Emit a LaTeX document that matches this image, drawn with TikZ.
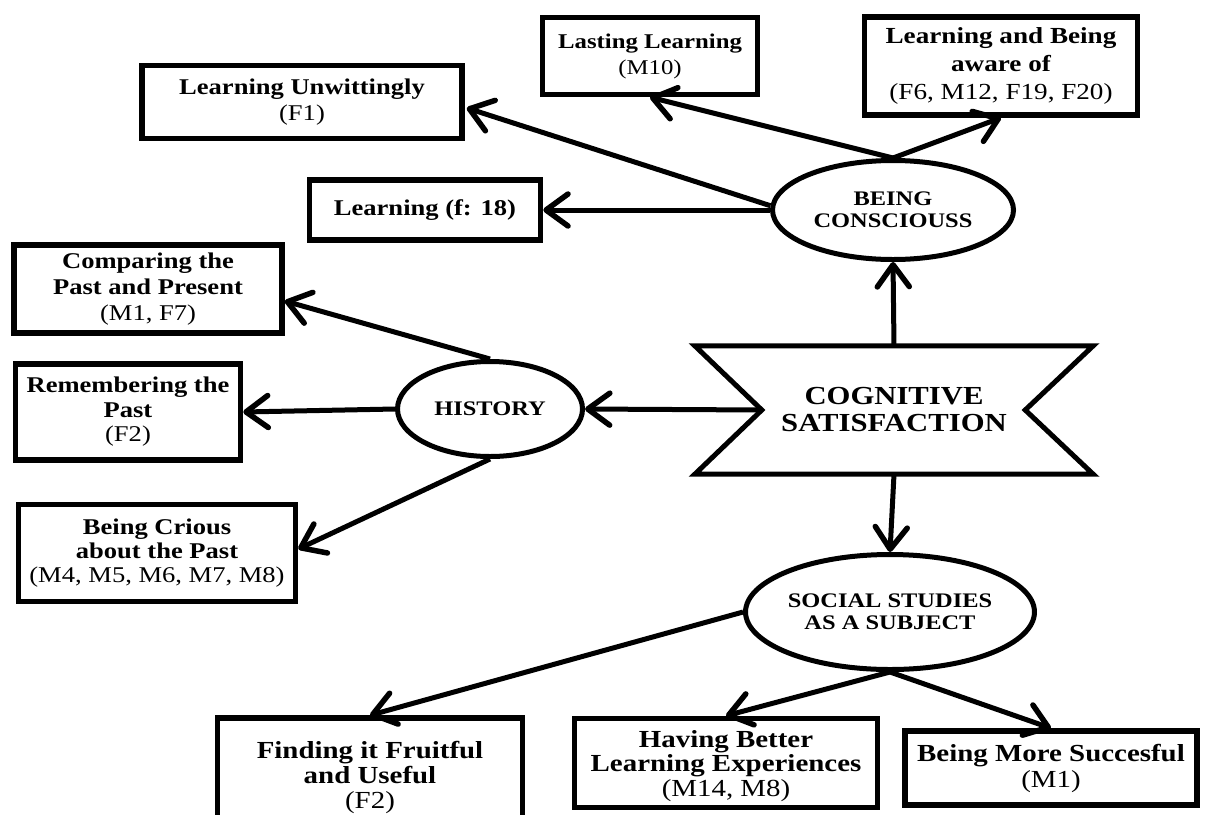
\documentclass[tikz,border=0pt]{standalone}
\usepackage{fontspec}
\setmainfont{Liberation Serif}[FakeStretch=1.18]
\usetikzlibrary{arrows.meta,calc,shapes.geometric}
\begin{document}
\begin{tikzpicture}[x=1pt,y=-1pt,
  box/.style={draw,line width=5.5pt,rectangle,inner sep=0pt,align=center,
    font=\fontsize{22.5}{26}\selectfont\bfseries},
  bigbox/.style={box,font=\fontsize{24.5}{26}\selectfont\bfseries},
  ell/.style={draw,line width=5pt,ellipse,inner sep=0pt,align=center,
    font=\fontsize{20.7}{22}\selectfont\bfseries},
  arr/.style={line width=5pt,-{Straight Barb[length=22pt,width=32pt,line width=5.5pt,round]}}
]
\useasboundingbox[fill=white] (0,0) rectangle (1206,814);

% upper branch
\node[box,minimum width=320,minimum height=73] (LU) at (302,102)
  {Learning Unwittingly\\{\mdseries (F1)}};
\node[box,minimum width=231,minimum height=60] (LF) at (425,210)
  {Learning (f: 18)};
\node[box,minimum width=215,minimum height=77,font=\fontsize{21}{26}\selectfont\bfseries] (LL) at (650,56)
  {Lasting Learning\\{\mdseries (M10)}};
\node[box,minimum width=273,minimum height=98,font=\fontsize{23}{28}\selectfont\bfseries] (LA) at (1001,66)
  {Learning and Being\\aware of\\{\mdseries (F6, M12, F19, F20)}};
\node[ell,minimum width=241,minimum height=99] (BC) at (893,210)
  {BEING\\CONSCIOUSS};

% centre
\node[inner sep=0pt,minimum width=398,minimum height=128,align=center,
  font=\fontsize{26}{27}\selectfont\bfseries] (CS) at (894,410)
  {COGNITIVE\\SATISFACTION};
\draw[line width=5pt,line join=miter]
  (CS.north west) -- (CS.north east) -- ($(CS.east)+(-68,0)$) -- (CS.south east)
  -- (CS.south west) -- ($(CS.west)+(67,0)$) -- cycle;
\coordinate (CSl) at ($(CS.west)+(67,0)$);

% left branch
\node[ell,minimum width=185,minimum height=95] (HI) at (490,409) {HISTORY};
\node[box,minimum width=268,minimum height=88] (CP) at (148,289)
  {Comparing the\\Past and Present\\{\mdseries (M1, F7)}};
\node[box,minimum width=225,minimum height=96,font=\fontsize{22.5}{24.5}\selectfont\bfseries] (RP) at (128,412)
  {Remembering the\\Past\\{\mdseries (F2)}};
\node[box,minimum width=277,minimum height=97,font=\fontsize{22.5}{24}\selectfont\bfseries] (BR) at (157,553)
  {Being Crious\\about the Past\\{\mdseries (M4, M5, M6, M7, M8)}};

% lower branch
\node[ell,minimum width=279,minimum height=115] (SS) at (890,612)
  {SOCIAL STUDIES\\AS A SUBJECT};
\node[bigbox,minimum width=305,minimum height=118,font=\fontsize{24.5}{25}\selectfont\bfseries] (FI) at (370,777)
  {Finding it Fruitful\\and Useful\\{\mdseries (F2)}};
\node[box,minimum width=303,minimum height=89] (HB) at (726,763) {};
\node[align=center,inner sep=0pt,font=\fontsize{24.5}{24.5}\selectfont\bfseries] (HBt) at ($(HB.center)+(0,3)$)
  {Having Better\\Learning Experiences\\{\mdseries (M14, M8)}};
\node[bigbox,minimum width=292,minimum height=74] (BM) at (1051,768)
  {Being More Succesful\\{\mdseries (M1)}};

% connectors
\draw[arr] (CS.north) -- (BC.south);
\draw[arr] (CSl) -- (HI.east);
\draw[arr] (CS.south) -- (SS.north);

\draw[arr] (BC.west) -- (LF.east);
\draw[arr] (BC.178) -- ($(LU.east)+(2,6)$);
\draw[arr] (BC.north) -- (LL.south);
\draw[arr] (BC.north) -- (LA.south);

\draw[arr] (HI.north) -- ($(CP.east)+(0,12)$);
\draw[arr] (HI.west) -- (RP.east);
\draw[arr] (HI.south) -- ($(BR.east)+(0,-4)$);

\draw[arr] (SS.west) -- (FI.north);
\draw[arr] (SS.south) -- (HB.north);
\draw[arr] (SS.south) -- (BM.north);
\end{tikzpicture}
\end{document}
